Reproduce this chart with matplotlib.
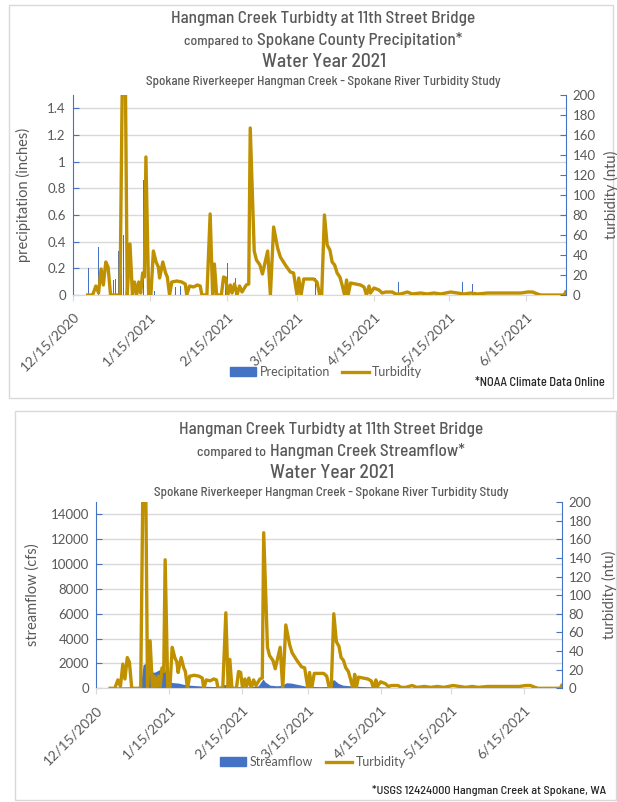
import matplotlib
matplotlib.use("Agg")
import matplotlib.pyplot as plt
import numpy as np
import pandas as pd
from matplotlib.lines import Line2D
from matplotlib.patches import Patch, Rectangle
from matplotlib.ticker import FuncFormatter


W_PX, H_PX = 617, 802
START = pd.Timestamp("2020-12-15")
END_DAY = 198

BLUE = "#4472C4"
GOLD = "#BF9000"
GRID = "#D9D9D9"
TEXT = "#595959"
TITLE_FONT = ["Barlow Semi Condensed", "DejaVu Sans"]
BODY_FONT = ["Lato", "DejaVu Sans"]

# turbidity at 11th Street Bridge (days after 12/15/2020, ntu)
turb_day = [
	6, 8, 9.3, 10.4, 11.4, 12.3, 13.3, 14.2, 15.2, 19,
	19.9, 21.2, 21.9, 23, 24, 24.8, 25.7, 26.5, 27.3, 28.1,
	28.8, 29.4, 30.5, 31.4, 32.4, 33.5, 34.4, 34.9, 36.2, 37.3,
	38, 38.9, 39.8, 41.8, 43.8, 45.2, 45.8, 46.9, 48.5, 50.1,
	51.2, 51.9, 53.9, 55.2, 56.2, 56.9, 57.8, 59.7, 60.6, 61.5,
	62.3, 63.3, 64, 65, 66, 67, 68, 69.7, 70.7, 71.3,
	72.9, 73.8, 75.2, 76.2, 78.3, 79.4, 80.7, 82.3, 83.4, 85.4,
	87.4, 88.7, 90.1, 90.8, 91.7, 92.8, 94.8, 96.8, 98.1, 99.2,
	100, 101.1, 102.2, 103.3, 104.2, 105.2, 106.2, 107.3, 108.2, 109.2,
	110, 110.6, 111.6, 113.6, 115.6, 117, 118, 119, 119.6, 121,
	123, 124.3, 125.7, 128.4, 129.7, 131.7, 134.4, 136.4, 139.7, 142.4,
	145.1, 147.8, 151.8, 154.5, 157.2, 159.9, 162.6, 166.6, 169.3, 172,
	174.7, 177.3, 180, 182.7, 184.7, 186.7, 188, 197.4, 198,
]
turb_ntu = [
	0, 0, 9, 2, 26, 10, 33, 28, 0, 0,
	210, 205, 0, 51, 0, 13, 0, 13, 2, 22,
	18, 138, 0, 0, 44, 33, 28, 17, 33, 22,
	18, 0, 13, 14, 13, 11, 0, 9, 8, 10,
	9, 0, 0, 81, 0, 31, 0, 0, 18, 17,
	0, 10, 2, 11, 0, 9, 3, 10, 11, 167,
	44, 35, 30, 21, 44, 0, 68, 47, 38, 30,
	23, 22, 0, 17, 0, 16, 16, 16, 13, 0,
	0, 80, 50, 45, 33, 30, 22, 18, 10, 0,
	15, 0, 12, 11, 10, 8, 0, 9, 2, 7,
	5, 2, 3, 3, 1, 1, 3, 1, 2, 1,
	2, 1, 3, 2, 1, 2, 1, 2, 2, 2,
	2, 2, 2, 3, 3, 1, 0, 0, 3,
]

# Spokane County precipitation (days after 12/15/2020, inches)
precip_day = [6.4, 10.3, 15.4, 16.5, 17.3, 18.4, 19.6, 20.4, 22.5, 23.5,
	28.5, 29.4, 33, 41.3, 42.3, 43.2, 46, 61.5, 62.2, 65.3,
	74.4, 97.6, 99.7, 114.6, 130.7, 156.7, 160.7, 180, 182.9]
precip_in = [0.20, 0.36, 0.76, 0.11, 0.12, 0.33, 0.16, 0.45, 0.375, 0.05,
	0.86, 0.13, 0.03, 0.06, 0.03, 0.07, 0.02, 0.08, 0.24, 0.125,
	0.045, 0.13, 0.13, 0.02, 0.10, 0.10, 0.08, 0.07, 0.36]

# Hangman Creek streamflow (days after 12/15/2020, cfs)
flow_day = [6, 10, 15, 18, 19, 20, 21, 22, 23, 24,
	25, 26, 27, 28, 29, 30, 31, 32, 33, 35,
	37, 40, 45, 50, 53, 54.5, 56, 60, 65, 69,
	71, 72, 74, 77, 79, 81, 83, 86, 89, 95,
	99, 101, 103, 105, 110, 115, 120, 125]
flow_cfs = [100, 110, 120, 150, 300, 1900, 2000, 1800, 1500, 1300,
	1300, 1400, 1500, 1600, 1700, 900, 550, 480, 450, 420,
	330, 250, 180, 140, 180, 320, 200, 130, 120, 200,
	750, 500, 250, 200, 250, 450, 420, 300, 180, 130,
	150, 720, 400, 250, 170, 130, 120, 100]

tick_dates = pd.date_range("2020-12-01", "2021-06-01", freq="MS") + pd.Timedelta(days=14)


def to_dates(days):
	return START + pd.to_timedelta(np.asarray(days, dtype=float), unit="D")


def fx(px):
	return px / W_PX


def fy(py):
	return 1 - py / H_PX


def fit(fig, t, width_px):
	# scale a text so it spans the same width as in the reference
	w = t.get_window_extent(fig.canvas.get_renderer()).width
	t.set_fontsize(t.get_fontsize() * width_px / w)
	return t.get_window_extent(fig.canvas.get_renderer()).width


def style_axes(ax, ax2, left_max, left_step, left_label, label_x):
	ax.set_xlim(START, START + pd.Timedelta(days=END_DAY))
	ax.set_yticks(np.arange(0, left_max - left_step / 2 + 1e-9, left_step))
	ax.yaxis.set_major_formatter(FuncFormatter(lambda v, p: f"{v:g}"))
	ax.set_ylim(0, left_max)
	ax2.set_yticks(np.arange(0, 201, 20))
	ax2.set_ylim(0, 200)
	ax.grid(axis="y", color=GRID, linewidth=1)
	ax.set_axisbelow(True)
	for s in ["top", "right"]:
		ax.spines[s].set_visible(False)
	for s in ["top", "left", "bottom"]:
		ax2.spines[s].set_visible(False)
	ax.spines["left"].set_color(BLUE)
	ax2.spines["right"].set_color(BLUE)
	ax.spines["bottom"].set_color(GRID)
	for a in (ax, ax2):
		a.tick_params(axis="y", direction="in", length=4, color=BLUE, labelcolor=TEXT, labelsize=9.5, pad=5)
		for lab in a.get_yticklabels():
			lab.set_family(BODY_FONT)
	ax.set_xticks(tick_dates)
	ax.set_xticklabels([f"{d.month}/{d.day}/{d.year}" for d in tick_dates],
		rotation=45, ha="right", va="top", rotation_mode="anchor", family=BODY_FONT)
	ax.tick_params(axis="x", direction="out", length=4, color=GRID, labelcolor=TEXT, labelsize=10, pad=7)
	ax.set_ylabel(left_label, color=TEXT, fontsize=10.5, family=BODY_FONT)
	ax.yaxis.set_label_coords(label_x, 0.5)


def titles(fig, top_px, cx, second, second_w):
	t = fig.text(fx(cx), fy(top_px + 13), "Hangman Creek Turbidty at 11th Street Bridge",
		ha="center", va="center", fontsize=12, color=TEXT, family=TITLE_FONT, weight=500)
	fit(fig, t, 305)
	t1 = fig.text(0, fy(top_px + 40), "compared to", ha="left", va="baseline",
		fontsize=9.5, color=TEXT, family=TITLE_FONT, weight=500)
	t2 = fig.text(0, fy(top_px + 40), second, ha="left", va="baseline",
		fontsize=12, color=TEXT, family=TITLE_FONT, weight=500)
	w1 = fit(fig, t1, 69)
	w2 = fit(fig, t2, second_w)
	x0 = cx - (w1 + 4 + w2) / 2
	t1.set_x(fx(x0))
	t2.set_x(fx(x0 + w1 + 4))
	t = fig.text(fx(cx + 1), fy(top_px + 57), "Water Year 2021", ha="center", va="center",
		fontsize=15, color=TEXT, family=TITLE_FONT, weight=500)
	fit(fig, t, 124)
	t = fig.text(fx(cx), fy(top_px + 77), "Spokane Riverkeeper Hangman Creek - Spokane River Turbidity Study",
		ha="center", va="center", fontsize=9.5, color=TEXT, family=TITLE_FONT, weight=500)
	fit(fig, t, 355)


fig = plt.figure(figsize=(W_PX / 100, H_PX / 100), dpi=100)
fig.patch.set_facecolor("white")
fig.patches.append(Rectangle((fx(8.5), fy(398)), fx(604), 393 / H_PX, transform=fig.transFigure,
	fill=False, edgecolor=GRID, linewidth=1))
fig.patches.append(Rectangle((fx(15), fy(800)), fx(601), 389 / H_PX, transform=fig.transFigure,
	fill=False, edgecolor=GRID, linewidth=1))

turb_dates = to_dates(turb_day)

# top chart: precipitation
ax = fig.add_axes([fx(72.7), fy(295), fx(565.7 - 72.7), (295 - 95) / H_PX])
ax2 = ax.twinx()
ax.bar(to_dates(precip_day), precip_in, width=0.3, color=BLUE, linewidth=0)
ax2.plot(turb_dates, turb_ntu, color=GOLD, linewidth=2.4, solid_joinstyle="round")
style_axes(ax, ax2, 1.5, 0.2, "precipitation (inches)", -0.085)
titles(fig, 5, 323, "Spokane County Precipitation*", 206)
fig.text(fx(611), fy(195), "turbidity (ntu)", rotation=90, ha="center", va="center",
	fontsize=10.5, color=TEXT, family=BODY_FONT)
fig.legend(handles=[Patch(color=BLUE, label="Precipitation"), Line2D([], [], color=GOLD, lw=2.4, label="Turbidity")],
	loc="center", bbox_to_anchor=(fx(326), fy(372)), ncol=2, frameon=False,
	handlelength=2.1, handletextpad=0.3, columnspacing=1.0, labelcolor=TEXT, prop={"family": BODY_FONT, "size": 9})
t = fig.text(fx(605), fy(383), "*NOAA Climate Data Online", ha="right", va="center",
	fontsize=8, color="#262626", family=TITLE_FONT, weight=500)
fit(fig, t, 130)

# bottom chart: streamflow
bx = fig.add_axes([fx(96), fy(688.3), fx(561.7 - 96), (688.3 - 502) / H_PX])
bx2 = bx.twinx()
bx.fill_between(to_dates(flow_day), flow_cfs, color=BLUE, linewidth=0)
bx2.plot(turb_dates, turb_ntu, color=GOLD, linewidth=2.4, solid_joinstyle="round")
style_axes(bx, bx2, 15000, 2000, "streamflow (cfs)", -0.12)
titles(fig, 416, 331, "Hangman Creek Streamflow*", 195)
fig.text(fx(609), fy(595), "turbidity (ntu)", rotation=90, ha="center", va="center",
	fontsize=10.5, color=TEXT, family=BODY_FONT)
fig.legend(handles=[Patch(color=BLUE, label="Streamflow"), Line2D([], [], color=GOLD, lw=2.4, label="Turbidity")],
	loc="center", bbox_to_anchor=(fx(313), fy(762)), ncol=2, frameon=False,
	handlelength=2.1, handletextpad=0.3, columnspacing=1.0, labelcolor=TEXT, prop={"family": BODY_FONT, "size": 9})
t = fig.text(fx(606), fy(791), "*USGS 12424000 Hangman Creek at Spokane, WA", ha="right", va="center",
	fontsize=8, color="#262626", family=TITLE_FONT, weight=500)
fit(fig, t, 234)

fig.savefig("out.png", dpi=100)
